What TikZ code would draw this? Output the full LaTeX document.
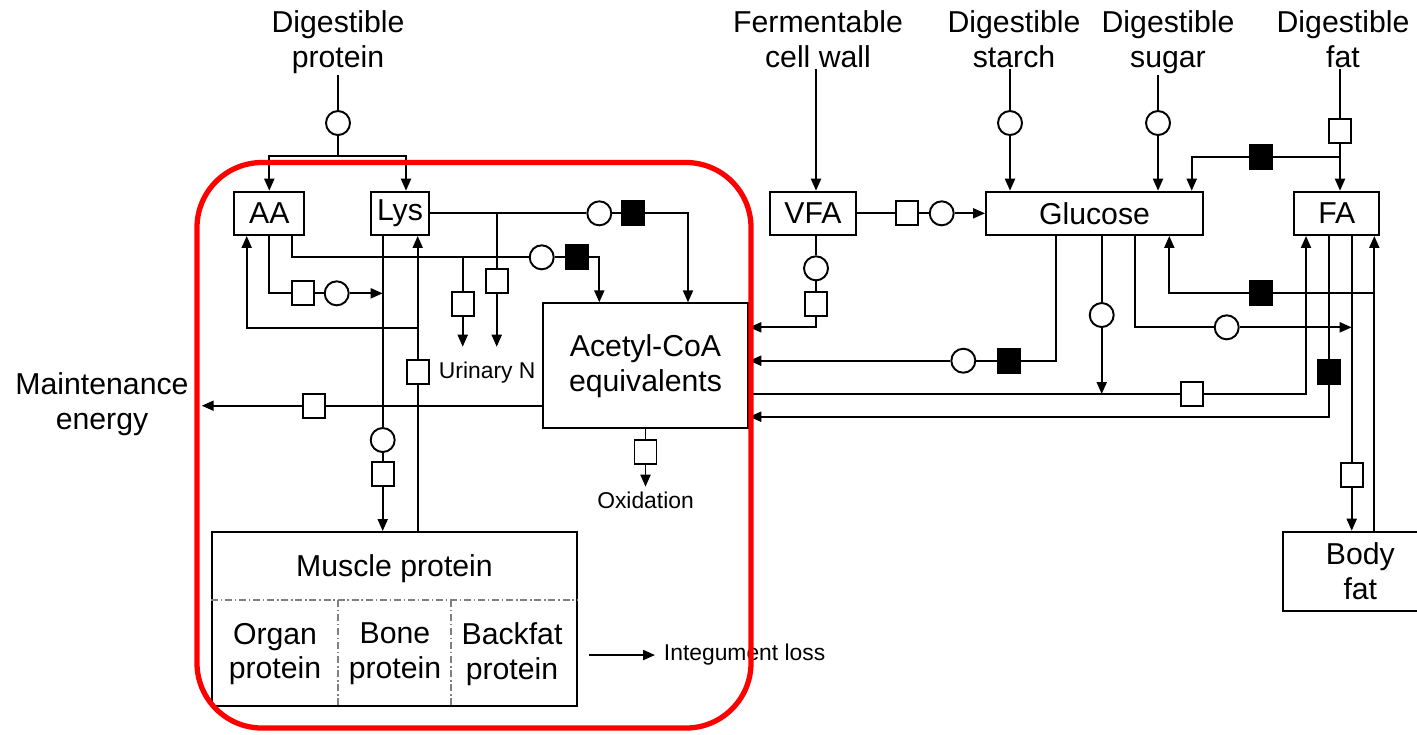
\documentclass[tikz,border=0pt]{standalone}
\usepackage{fontspec}
\setmainfont{Liberation Sans}
\usetikzlibrary{arrows.meta}

\begin{document}
\begin{tikzpicture}[x=0.1mm,y=-0.1mm,line width=0.55pt,
    >={Triangle[length=1.2mm,width=1mm]},
    pool/.style ={rectangle, draw, inner sep=0pt, font=\fontsize{8.6}{9.9}\selectfont},
    valve/.style ={circle, draw, fill=white, inner sep=0pt, minimum size=2.4mm},
    flux/.style ={rectangle, draw, fill=white, inner sep=0pt, minimum width=2.2mm, minimum height=2.4mm},
    blackflux/.style ={flux, fill=black},
    input/.style ={align=center, inner sep=0pt, font=\fontsize{8.6}{9.9}\selectfont},
    small/.style ={inner sep=0pt, font=\fontsize{6.5}{7.5}\selectfont},
    subdiv/.style ={line width=0.4pt, gray, dash pattern=on 2pt off 0.8pt on 0.4pt off 0.8pt}]
   \useasboundingbox (0,0) rectangle (1417,734);
   \node[input, anchor=north] (tProt) at (338,10) {Digestible\\protein};
   \node[input, anchor=north] (tCell) at (818,10) {Fermentable\\cell wall};
   \node[input, anchor=north] (tStarch) at (1014,10) {Digestible\\starch};
   \node[input, anchor=north] (tSugar) at (1168,10) {Digestible\\sugar};
   \node[input, anchor=north] (tFat) at (1343,10) {Digestible\\fat};
   \node[input] (tMaint) at (102,404) {Maintenance\\energy};
   \node[small, anchor=west] (tUrin) at (438,373) {Urinary N};
   \node[small, inner sep=0.4mm] (tOxid) at (645.5,500) {Oxidation};
   \node[small, anchor=west, inner sep=0.8mm] (tInteg) at (655,655) {Integument loss};
   \node[pool, minimum width=7mm, minimum height=4.33mm] (AA) at (269.3,213.3) {AA};
   \node[pool, minimum width=5.83mm, minimum height=4.33mm] (Lys) at (400,213.3) {Lys};
   \node[pool, minimum width=8.6mm, minimum height=4.33mm] (VFA) at (813,213.3) {VFA};
   \node[pool, minimum width=21.7mm, minimum height=4.33mm] (Glc) at (1094.5,213.3) {Glucose};
   \node[pool, minimum width=8.5mm, minimum height=4.33mm] (FA) at (1336.8,213.3) {FA};
   \node[pool, minimum width=20.56mm, minimum height=12.5mm, align=center] (ACoA) at (645.5,365.8) {Acetyl-CoA\\equivalents};
   \node[pool, minimum width=15.4mm, minimum height=7.93mm, align=center, text depth=-2pt] (BF) at (1360.3,571.3) {Body\\fat};
   \node[pool, minimum width=36.5mm, minimum height=17.4mm] (MP) at (394.5,619) {};
   \node[input] (tMP) at (394.5,569) {Muscle protein};
   \node[input] (tOrgan) at (275,654) {Organ\\protein};
   \node[input] (tBone) at (395,654) {Bone\\protein};
   \node[input] (tBackfat) at (512,654) {Backfat\\protein};
   \node[valve] (cP) at (338,123) {};
   \node[valve] (cSt) at (1010,123) {};
   \node[valve] (cSu) at (1158,123) {};
   \node[flux] (sFat) at (1340,131) {};
   \node[blackflux] (fFatGlc) at (1260.7,156.7) {};
   \node[valve] (cLysAc) at (599.3,213.3) {};
   \node[blackflux] (fLysAc) at (633.3,213.3) {};
   \node[valve] (cAAAc) at (541.7,257.3) {};
   \node[blackflux] (fAAAc) at (576.7,257.3) {};
   \node[flux] (sUrin1) at (462.7,304) {};
   \node[flux] (sUrin2) at (496.7,280.7) {};
   \node[flux] (sAAMP) at (303.3,293.3) {};
   \node[valve] (cAAMP) at (336.7,293.3) {};
   \node[valve] (cLysMP) at (382.7,440) {};
   \node[flux] (sLysMP) at (382.7,474) {};
   \node[flux] (sMPLys) at (417.7,372.3) {};
   \node[flux] (sMaint) at (314.3,405.7) {};
   \node[flux] (sOxid) at (645.5,452) {};
   \node[flux] (sVFAGlc) at (906.7,213.3) {};
   \node[valve] (cVFAGlc) at (941.7,213.3) {};
   \node[valve] (cVFAAc) at (816,268.3) {};
   \node[flux] (sVFAAc) at (816,304.3) {};
   \node[blackflux] (fGlcAc) at (1009.3,360.7) {};
   \node[valve] (cGlcAc) at (963.3,360.7) {};
   \node[valve] (cGlcFA) at (1101.7,315) {};
   \node[flux] (sAcFA) at (1191.7,394) {};
   \node[blackflux] (fFAAc) at (1329.3,372.3) {};
   \node[valve] (cGlcBF) at (1226.7,327.3) {};
   \node[flux] (sFABF) at (1351.7,475) {};
   \node[blackflux] (fBFGlc) at (1260.7,293.3) {};
   \coordinate (jP) at (338,156);
   \coordinate (jFat) at (1340,156.7);
   \coordinate (xFG) at (1191.7,0);
   \coordinate (xLA) at (688,0);
   \coordinate (xAA) at (291.7,0);
   \coordinate (yUrin) at (0,346.7);
   \coordinate (xMA) at (246.7,0);
   \coordinate (yMA) at (0,327.7);
   \coordinate (eMaint) at (201.7,405.7);
   \coordinate (yVA) at (0,327.3);
   \coordinate (xGA) at (1055.7,0);
   \coordinate (yAF) at (0,394);
   \coordinate (xAF) at (1306,0);
   \coordinate (yFA) at (0,416.7);
   \coordinate (xGB) at (1135,0);
   \coordinate (xBF) at (1374.3,0);
   \coordinate (xBG) at (1169.3,0);
   \coordinate (yDash) at (0,600);
   \coordinate (xD1) at (338,0);
   \coordinate (xD2) at (451,0);
   \draw (tProt) -- (cP) -- (jP);
   \draw[->] (jP) -| (AA);
   \draw[->] (jP) -| ([xshift=.6mm]Lys.north);
   \draw[->] (tCell.south -| cVFAAc) -- (cVFAAc |- VFA.north);
   \draw[->] (tStarch.south -| cSt) -- (cSt) -- (cSt |- Glc.north);
   \draw[->] (tSugar.south -| cSu) -- (cSu) -- (cSu |- Glc.north);
   \draw[->] (tFat.south -| sFat) -- (sFat) -- (sFat |- FA.north);
   \draw[->] (jFat) -- (fFatGlc) -| (xFG |- Glc.north);
   \draw[->] (Lys.east) -- (cLysAc) -- (fLysAc) -| (xLA |- ACoA.north);
   \draw[->] (sUrin2 |- Lys.east) -- (sUrin2) -- (sUrin2 |- yUrin);
   \draw[->] (xAA |- AA.south) |- (cAAAc) -- (fAAAc) -| (cLysAc |- ACoA.north);
   \draw[->] (sUrin1 |- cAAAc) -- (sUrin1) -- (sUrin1 |- yUrin);
   \draw[->] (AA) |- (sAAMP) -- (cAAMP) -- (cLysMP |- cAAMP);
   \draw[->] (cLysMP |- Lys.south) -- (cLysMP) -- (sLysMP) -- (sLysMP |- MP.north);
   \draw[->] (sMPLys |- MP.north) -- (sMPLys) -- (sMPLys |- Lys.south);
   \draw[->] (sMPLys |- yMA) -| (xMA |- AA.south);
   \draw[->] (ACoA.west |- sMaint) -- (sMaint) -- (eMaint);
   \draw[->] (ACoA) -- (sOxid) -- (tOxid);
   \draw[->] (VFA) -- (sVFAGlc) -- (cVFAGlc) -- (Glc);
   \draw[->] (cVFAAc |- VFA.south) -- (cVFAAc) -- (sVFAAc) |- (ACoA.east |- yVA);
   \draw[->] (xGA |- Glc.south) |- (fGlcAc) -- (cGlcAc) -- (ACoA.east |- cGlcAc);
   \draw[->] (cGlcFA |- Glc.south) -- (cGlcFA) -- (cGlcFA |- yAF);
   \draw[->] (ACoA.east |- yAF) -- (sAcFA) -| (xAF |- FA.south);
   \draw[->] (fFAAc |- FA.south) -- (fFAAc) |- (ACoA.east |- yFA);
   \draw[->] (xGB |- Glc.south) |- (cGlcBF) -- (sFABF |- cGlcBF);
   \draw[->] (sFABF |- FA.south) -- (sFABF) -- (sFABF |- BF.north);
   \draw[->] (xBF |- BF.north) -- (xBF |- FA.south);
   \draw[->] (xBF |- fBFGlc) -- (fBFGlc) -| (xBG |- Glc.south);
   \draw[->] ([xshift=1.1mm]MP.east |- tInteg) -- (tInteg);
   \draw[subdiv] (MP.west |- yDash) -- (MP.east |- yDash);
   \draw[subdiv] (xD1 |- yDash) -- (xD1 |- MP.south);
   \draw[subdiv] (xD2 |- yDash) -- (xD2 |- MP.south);
   \draw[red, line width=1.5pt, rounded corners=6.5mm] (197,162.5) rectangle (751,728);
\end{tikzpicture}
\end{document}
